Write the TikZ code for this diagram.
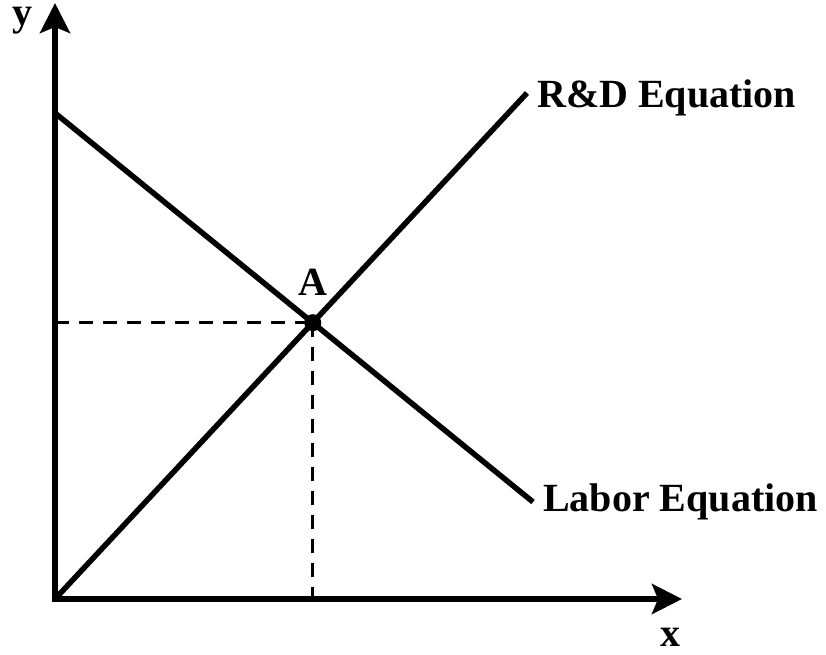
\documentclass[tikz,border=0pt]{standalone}
\usepackage{fontspec}
\setmainfont{Liberation Serif}
\usetikzlibrary{arrows.meta,positioning}

\begin{document}
\begin{tikzpicture}[x=1pt,y=1pt,
  axis/.style={line width=5.5pt,{Stealth[length=30pt,width=30pt,inset=6pt]}-{Stealth[length=30pt,width=30pt,inset=6pt]}},
  curve/.style={line width=5.5pt},
  guide/.style={line width=2.5pt,dash pattern=on 14pt off 10pt},
  lbl/.style={font=\bfseries\fontsize{40}{44}\selectfont,inner sep=0pt}]
  \useasboundingbox (-55,-55) rectangle (771,599);
  % Axes
  \coordinate (O) at (0,0);
  \coordinate (xend) at (627,0);
  \coordinate (yend) at (0,596);
  \draw[axis,line join=miter] (xend) -- (O) -- (yend);
  \node[lbl,anchor=base] (ylab) at (-32,573) {y};
  \node[lbl,anchor=base] (xlab) at (615,-47) {x};
  % Equations
  \coordinate (lab0) at (0,486);
  \coordinate (lab1) at (478,97);
  \coordinate (rd1) at (472,506);
  \draw[curve] (lab0) -- (lab1);
  \draw[curve] (O) -- (rd1);
  \node[lbl,anchor=base west,xshift=10pt,yshift=-15pt] (rdlab) at (rd1) {R\&D Equation};
  \node[lbl,anchor=base west,xshift=10pt,yshift=-9pt] (lablab) at (lab1) {Labor Equation};
  % Equilibrium
  \coordinate (A) at (intersection of lab0--lab1 and O--rd1);
  \coordinate (Ay) at (O |- A);
  \coordinate (Ax) at (O -| A);
  \draw[guide] (Ay) -- (A);
  \draw[guide] (A) -- (Ax);
  \fill (A) circle (8.5);
  \node[lbl,above=27pt of A] (alab) {A};
\end{tikzpicture}
\end{document}
